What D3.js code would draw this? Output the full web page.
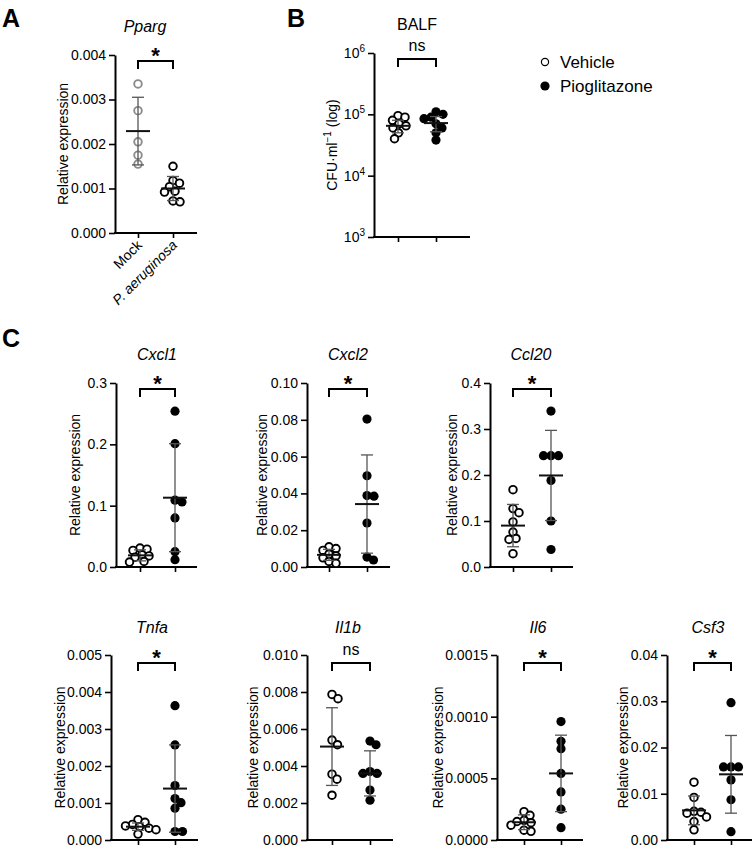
<!DOCTYPE html>
<html><head><meta charset="utf-8">
<script src="https://cdn.jsdelivr.net/npm/d3@7"></script>
<style>body{margin:0;background:#fff}svg{display:block}</style>
</head><body><svg id="c" width="755" height="849"></svg>
<script>
// ---------- DATA ----------
const ppargGroups = ["Mock", "P. aeruginosa"];
const ppargMock = [0.00335, 0.00275, 0.00205, 0.00175, 0.00155];
const ppargPa = [0.0015, 0.00118, 0.00112, 0.00104, 0.00094, 0.00092, 0.00072, 0.0007];
const ppargMean = [0.00229, 0.00100];
const ppargSD = [0.00076, 0.00027];
const ppargTicks = [0, 0.001, 0.002, 0.003, 0.004];

const treatGroups = ["Vehicle", "Pioglitazone"];
const balfVehicle = [95000, 90000, 80000, 70000, 65000, 60000, 50000, 40000];
const balfPio = [110000, 100000, 90000, 85000, 70000, 60000, 50000, 38000];
const balfMean = [65000, 72000];
const balfSD = [15000, 20000];
const balfTicks = [1e3, 1e4, 1e5, 1e6];

const genes = ["Cxcl1", "Cxcl2", "Ccl20", "Tnfa", "Il1b", "Il6", "Csf3"];
const geneSig = ["*", "*", "*", "*", "ns", "*", "*"];

const cxcl1Vehicle = [0.031, 0.029, 0.027, 0.020, 0.018, 0.016, 0.009, 0.008];
const cxcl1Pio = [0.254, 0.201, 0.109, 0.106, 0.080, 0.025, 0.012];
const cxcl2Vehicle = [0.011, 0.010, 0.009, 0.007, 0.006, 0.005, 0.003, 0.002];
const cxcl2Pio = [0.0804, 0.0496, 0.0388, 0.0385, 0.0239, 0.0054, 0.0038];
const ccl20Vehicle = [0.168, 0.127, 0.118, 0.098, 0.076, 0.062, 0.060, 0.029];
const ccl20Pio = [0.339, 0.242, 0.242, 0.242, 0.188, 0.100, 0.038];
const tnfaVehicle = [0.00055, 0.00048, 0.00042, 0.00038, 0.00036, 0.00032, 0.00028, 0.00016];
const tnfaPio = [0.00363, 0.00257, 0.00147, 0.00112, 0.00101, 0.00086, 0.00023, 0.00023];
const il1bVehicle = [0.00787, 0.00764, 0.0054, 0.00515, 0.00356, 0.00329, 0.00242];
const il1bPio = [0.00535, 0.00515, 0.0037, 0.0036, 0.0036, 0.0027, 0.00215];
const il6Vehicle = [0.00023, 0.00020, 0.00016, 0.00015, 0.00014, 0.00012, 0.00008, 0.00007];
const il6Pio = [0.00096, 0.00080, 0.00074, 0.00054, 0.00039, 0.00025, 0.00010];
const csf3Vehicle = [0.0125, 0.0092, 0.0062, 0.0060, 0.0058, 0.0050, 0.0040, 0.0022];
const csf3Pio = [0.0297, 0.0158, 0.0158, 0.0158, 0.0130, 0.0087, 0.0018];

const vehicleMeans = [0.019, 0.0066, 0.090, 0.00036, 0.00505, 0.000144, 0.0064];
const vehicleSDs   = [0.009, 0.003, 0.046, 0.00010, 0.0021, 0.00006, 0.0031];
const pioMeans     = [0.113, 0.0342, 0.199, 0.00139, 0.0036, 0.00054, 0.0142];
const pioSDs       = [0.088, 0.0267, 0.098, 0.00118, 0.00122, 0.00031, 0.0084];

const cxcl1Ticks = [0, 0.1, 0.2, 0.3];
const cxcl2Ticks = [0, 0.02, 0.04, 0.06, 0.08, 0.10];
const ccl20Ticks = [0, 0.1, 0.2, 0.3, 0.4];
const tnfaTicks = [0, 0.001, 0.002, 0.003, 0.004, 0.005];
const il1bTicks = [0, 0.002, 0.004, 0.006, 0.008, 0.010];
const il6Ticks = [0, 0.0005, 0.0010, 0.0015];
const csf3Ticks = [0, 0.01, 0.02, 0.03, 0.04];

// ---------- DRAWING ----------
const F = '"Liberation Sans", Arial, Helvetica, sans-serif';
const svg = d3.select("#c");

function swarm(vals, y, cx, r) {
  const d = 2 * r * 0.78;
  const items = vals.map((v, i) => ({ v, i, py: y(v) })).sort((a, b) => a.py - b.py);
  const placed = [];
  for (const p of items) {
    let off = 0;
    for (let k = 0; k < 200; k++) {
      const o = (k % 2 ? 1 : -1) * Math.ceil(k / 2) * 0.5;
      const ok = placed.every(q => (q.px - (cx + o)) ** 2 + (q.py - p.py) ** 2 >= d * d);
      if (ok) { off = o; break; }
    }
    p.px = cx + off;
    placed.push(p);
  }
  return placed;
}

function panel(o) {
  const g = svg.append("g");
  const y = (o.log ? d3.scaleLog() : d3.scaleLinear()).domain(o.domain).range([o.yBot, o.yTop]);
  const x = d3.scalePoint().domain(o.groups).range([o.x0 + o.g0, o.x0 + o.g1]);

  // y axis
  const ya = g.append("g").attr("transform", `translate(${o.x0},0)`)
    .call(d3.axisLeft(y).tickValues(o.ticks).tickFormat(o.log ? () => "" : o.fmt)
      .tickSize(6).tickSizeOuter(0).tickPadding(3));
  ya.select(".domain").attr("stroke", "#000").attr("stroke-width", 2);
  ya.selectAll(".tick line").attr("stroke", "#000").attr("stroke-width", 1.6);
  ya.selectAll(".tick text").attr("font-size", 14).attr("font-family", F).attr("fill", "#000");
  if (o.log) {
    ya.selectAll(".tick text").each(function (v) {
      const t = d3.select(this);
      t.text(null);
      t.append("tspan").text("10");
      t.append("tspan").attr("font-size", 10).attr("dy", -6).text(Math.round(Math.log10(v)));
    });
  }

  // x axis
  g.append("line").attr("x1", o.x0 - 1).attr("x2", o.x1).attr("y1", o.yBot).attr("y2", o.yBot)
    .attr("stroke", "#000").attr("stroke-width", 2);
  const xa = g.append("g").attr("transform", `translate(0,${o.yBot})`)
    .call(d3.axisBottom(x).tickSize(5).tickFormat(""));
  xa.select(".domain").remove();
  xa.selectAll(".tick line").attr("stroke", "#000").attr("stroke-width", 1.6);

  if (o.xLabels) {
    o.groups.forEach((grp, i) => {
      g.append("text").attr("font-family", F).attr("font-size", 14)
        .attr("font-style", o.xItalic[i] ? "italic" : "normal")
        .attr("text-anchor", "end")
        .attr("transform", `translate(${x(grp) + 5},${o.yBot + 13}) rotate(-45)`)
        .text(grp);
    });
  }

  // title
  g.append("text").attr("font-family", F).attr("font-size", 16)
    .attr("font-style", o.titleItalic ? "italic" : "normal")
    .attr("text-anchor", "middle").attr("x", o.titleX).attr("y", o.titleY).text(o.title);

  // y title
  const yt = g.append("text").attr("font-family", F).attr("font-size", 14)
    .attr("text-anchor", "middle")
    .attr("transform", `translate(${o.yTitleX},${o.yTitleY !== undefined ? o.yTitleY : (o.yTop + o.yBot) / 2}) rotate(-90)`);
  if (o.yTitleParts) {
    o.yTitleParts.forEach(p => {
      const ts = yt.append("tspan").text(p.t);
      if (p.sup) ts.attr("font-size", 10).attr("dy", -6);
      if (p.down) ts.attr("dy", 6);
    });
  } else yt.text(o.yTitle);

  // points
  const r = 4.2;
  o.data.forEach((vals, i) => {
    const st = o.styles[i];
    const pts = swarm(vals, y, x(o.groups[i]), r + 0.3);
    g.append("g").selectAll("circle").data(pts).join("circle")
      .attr("cx", p => p.px).attr("cy", p => p.py)
      .attr("r", st.filled ? 4.6 : 3.8)
      .attr("fill", st.filled ? st.color : "#fff")
      .attr("stroke", st.color).attr("stroke-width", st.filled ? 0 : 1.9);
  });

  // mean & SD
  o.groups.forEach((grp, i) => {
    const cx = x(grp), m = o.means[i], s = o.sds[i];
    const c = o.barColor || "#555";
    g.append("line").attr("x1", cx).attr("x2", cx).attr("y1", y(m - s)).attr("y2", y(m + s))
      .attr("stroke", c).attr("stroke-width", 1.3);
    [m - s, m + s].forEach(v => g.append("line").attr("x1", cx - 6).attr("x2", cx + 6)
      .attr("y1", y(v)).attr("y2", y(v)).attr("stroke", c).attr("stroke-width", 1.3));
    g.append("line").attr("x1", cx - 12).attr("x2", cx + 12).attr("y1", y(m)).attr("y2", y(m))
      .attr("stroke", "#111").attr("stroke-width", 2);
  });

  // significance bracket
  const bt = o.yTop + o.bOff, bl = bt + 8;
  const xa0 = x(o.groups[0]), xa1 = x(o.groups[1]);
  g.append("path").attr("d", `M${xa0},${bl}V${bt}H${xa1}V${bl}`)
    .attr("fill", "none").attr("stroke", "#000").attr("stroke-width", 2);
  if (o.sig === "*") {
    g.append("text").attr("font-family", F).attr("font-size", 22).attr("font-weight", "bold")
      .attr("text-anchor", "middle").attr("x", (xa0 + xa1) / 2).attr("y", bt + 2).text("*");
  } else {
    g.append("text").attr("font-family", F).attr("font-size", 16)
      .attr("text-anchor", "middle").attr("x", (xa0 + xa1) / 2).attr("y", bt - 8).text(o.sig);
  }
}

// Panel letters
[["A", 2, 27], ["B", 287, 27], ["C", 2, 347]].forEach(([t, x, yy]) =>
  svg.append("text").attr("font-family", F).attr("font-size", 25).attr("font-weight", "bold")
    .attr("x", x).attr("y", yy).text(t));

const vehStyle = { filled: false, color: "#000" };
const pioStyle = { filled: true, color: "#000" };

// Panel A
panel({
  x0: 115, x1: 197, yTop: 55, yBot: 233, g0: 23, g1: 58, domain: [0, 0.004], ticks: ppargTicks,
  fmt: d3.format(".3f"), groups: ppargGroups, data: [ppargMock, ppargPa], means: ppargMean, sds: ppargSD,
  styles: [{ filled: false, color: "#8c8c8c" }, { filled: false, color: "#000" }],
  title: "Pparg", titleItalic: true, titleX: 145, titleY: 32, yTitle: "Relative expression", yTitleX: 68,
  sig: "*", bOff: 6, xLabels: true, xItalic: [false, true]
});

// Panel B
panel({
  x0: 374, x1: 470, yTop: 53, yBot: 237, g0: 24, g1: 62, domain: [1e3, 1e6], ticks: balfTicks, log: true,
  groups: treatGroups, data: [balfVehicle, balfPio], means: balfMean, sds: balfSD,
  styles: [vehStyle, pioStyle], title: "BALF", titleItalic: false, titleX: 417, titleY: 30,
  yTitleParts: [{ t: "CFU·ml" }, { t: "−1", sup: true }, { t: " (log)", down: true }], yTitleX: 337, yTitleY: 145,
  sig: "ns", bOff: 6
});

// Legend
svg.append("circle").attr("cx", 545).attr("cy", 62).attr("r", 3.6).attr("fill", "#fff").attr("stroke", "#000").attr("stroke-width", 1.2);
svg.append("circle").attr("cx", 545).attr("cy", 86).attr("r", 4.6).attr("fill", "#000");
svg.append("text").attr("font-family", F).attr("font-size", 17).attr("x", 560).attr("y", 68).text(treatGroups[0]);
svg.append("text").attr("font-family", F).attr("font-size", 17).attr("x", 560).attr("y", 92).text(treatGroups[1]);

// Panel C
const geneData = [
  [cxcl1Vehicle, cxcl1Pio], [cxcl2Vehicle, cxcl2Pio], [ccl20Vehicle, ccl20Pio],
  [tnfaVehicle, tnfaPio], [il1bVehicle, il1bPio], [il6Vehicle, il6Pio], [csf3Vehicle, csf3Pio]
];
const geneTicks = [cxcl1Ticks, cxcl2Ticks, ccl20Ticks, tnfaTicks, il1bTicks, il6Ticks, csf3Ticks];
const geneFmt = [".1f", ".2f", ".1f", ".3f", ".3f", ".4f", ".2f"];
const geneLayout = [
  { x0: 116, x1: 197, yTop: 383, yBot: 567, g0: 24, g1: 59, yTitleX: 80, bOff: 6 },
  { x0: 307, x1: 390, yTop: 383, yBot: 567, g0: 22, g1: 60, yTitleX: 267, bOff: 6 },
  { x0: 490, x1: 573, yTop: 383, yBot: 567, g0: 23, g1: 61, yTitleX: 457, bOff: 6 },
  { x0: 111, x1: 198, yTop: 655, yBot: 840, g0: 27, g1: 64, yTitleX: 65, bOff: 8 },
  { x0: 307, x1: 393, yTop: 655, yBot: 840, g0: 25, g1: 63, yTitleX: 258, bOff: 8 },
  { x0: 497, x1: 583, yTop: 655, yBot: 840, g0: 27, g1: 64, yTitleX: 443, bOff: 8 },
  { x0: 667, x1: 752, yTop: 655, yBot: 840, g0: 27, g1: 64, yTitleX: 628, bOff: 8 }
];
genes.forEach((gene, i) => {
  const L = geneLayout[i];
  const t = geneTicks[i];
  panel(Object.assign({}, L, {
    domain: [0, t[t.length - 1]], ticks: t, fmt: d3.format(geneFmt[i]),
    groups: treatGroups, data: geneData[i], means: [vehicleMeans[i], pioMeans[i]], sds: [vehicleSDs[i], pioSDs[i]],
    styles: [vehStyle, pioStyle], title: gene, titleItalic: true,
    titleX: L.x0 + 41, titleY: i < 3 ? 360 : 633, yTitle: "Relative expression", sig: geneSig[i]
  }));
});
</script>
</body></html>
